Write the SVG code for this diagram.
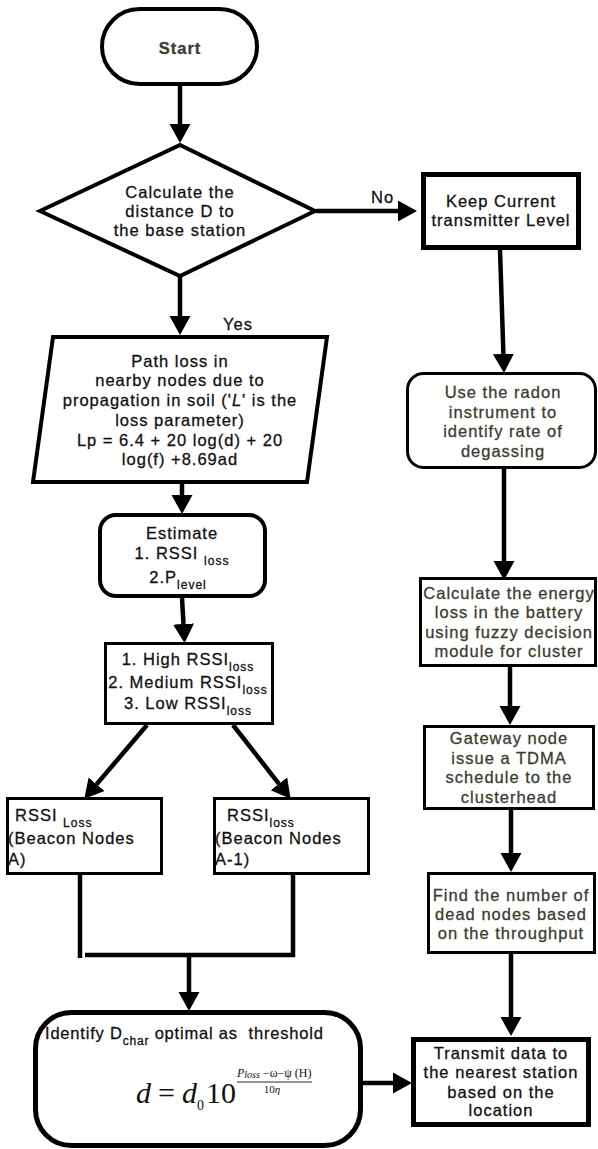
<svg xmlns="http://www.w3.org/2000/svg" width="598" height="1149" viewBox="0 0 598 1149">
<style>
.n{fill:#fff;stroke:#000;stroke-linejoin:miter}
.t{font-family:"Liberation Sans",Arial,sans-serif;font-size:16.5px;letter-spacing:1px;fill:#111;stroke:#111;stroke-width:0.3;text-anchor:middle}
.l{text-anchor:start}
.g{fill:#3a3d30;stroke:#3a3d30}
.c{fill:none;stroke:#000;stroke-width:4.5}
.m{font-family:"Liberation Serif","Times New Roman",serif;fill:#111}
</style>
<defs>
<marker id="ah" markerUnits="userSpaceOnUse" markerWidth="20" markerHeight="22" refX="0" refY="10.5" orient="auto">
<path d="M0,0 L19,10.5 L0,21 z" fill="#000"/>
</marker>
</defs>
<rect width="598" height="1149" fill="#fff"/>

<g id="connectors">
<path class="c" d="M180,86 V124" marker-end="url(#ah)"/>
<path class="c" d="M316,211 H398" marker-end="url(#ah)"/>
<path class="c" d="M180,276 V316" marker-end="url(#ah)"/>
<path class="c" d="M500,250 L503.4,354" marker-end="url(#ah)"/>
<path class="c" d="M182,484 V495" marker-end="url(#ah)"/>
<path class="c" d="M182,598 L183.5,624" marker-end="url(#ah)"/>
<path class="c" d="M147,725 L96.6,784.3" marker-end="url(#ah)"/>
<path class="c" d="M233,725 L278.9,783.8" marker-end="url(#ah)"/>
<path class="c" d="M80,875 V958"/>
<path class="c" d="M293,875 V955 H85"/>
<path class="c" d="M189,955 V992" marker-end="url(#ah)"/>
<path class="c" d="M504,469 V561" marker-end="url(#ah)"/>
<path class="c" d="M510,667 V706" marker-end="url(#ah)"/>
<path class="c" d="M511,810 V853" marker-end="url(#ah)"/>
<path class="c" d="M511,954 V1017" marker-end="url(#ah)"/>
<path class="c" d="M363,1083 H393" marker-end="url(#ah)"/>
<text class="t l" x="223" y="330">Yes</text>
<text class="t l" x="371" y="203">No</text>
</g>

<g id="start">
<rect class="n" x="102" y="9" width="155" height="75" rx="37.5" stroke-width="4"/>
<text class="t g" x="180" y="54" font-weight="bold">Start</text>
</g>

<g id="decision">
<polygon class="n" points="40,211 180,145 315,211 180,276" stroke-width="4"/>
<text class="t" x="180" y="198">Calculate the</text>
<text class="t" x="180" y="217">distance D to</text>
<text class="t" x="180" y="236">the base station</text>
</g>

<g id="keep">
<rect class="n" x="423.5" y="174.5" width="155" height="73" stroke-width="5"/>
<text class="t" x="501" y="207">Keep Current</text>
<text class="t" x="501" y="226">transmitter Level</text>
</g>

<g id="pathloss">
<polygon class="n" points="53,337 327,337 307,482 33,482" stroke-width="4"/>
<text class="t" x="180" y="367">Path loss in</text>
<text class="t" x="180" y="386">nearby nodes due to</text>
<text class="t" x="180" y="406">propagation in soil ('<tspan font-style="italic">L</tspan>' is the</text>
<text class="t" x="180" y="426">loss parameter)</text>
<text class="t" x="180" y="446">Lp = 6.4 + 20 log(d) + 20</text>
<text class="t" x="180" y="465">log(f) +8.69ad</text>
</g>

<g id="estimate">
<rect class="n" x="100" y="515" width="165" height="81" rx="16" stroke-width="4"/>
<text class="t" x="182" y="539">Estimate</text>
<text class="t" x="182" y="559">1. RSSI <tspan font-size="12" dy="6">loss</tspan></text>
<text class="t" x="178" y="583">2.P<tspan font-size="12" dy="6">level</tspan></text>
</g>

<g id="levels">
<rect class="n" x="105.5" y="643.5" width="167" height="80" stroke-width="3"/>
<text class="t" x="188" y="665">1. High RSSI<tspan font-size="12" dy="6">loss</tspan></text>
<text class="t" x="188" y="688">2. Medium RSSI<tspan font-size="12" dy="6">loss</tspan></text>
<text class="t" x="188" y="709">3. Low RSSI<tspan font-size="12" dy="6">loss</tspan></text>
</g>

<g id="beaconA">
<rect class="n" x="7.5" y="798.5" width="154" height="75" stroke-width="3"/>
<text class="t l" x="15" y="821">RSSI <tspan font-size="12" dy="6">Loss</tspan></text>
<text class="t l" x="8" y="844">(Beacon Nodes</text>
<text class="t l" x="8" y="865">A)</text>
</g>

<g id="beaconA1">
<rect class="n" x="214.5" y="798.5" width="154" height="75" stroke-width="3"/>
<text class="t l" x="227" y="821">RSSI<tspan font-size="12" dy="6">loss</tspan></text>
<text class="t l" x="215" y="844">(Beacon Nodes</text>
<text class="t l" x="215" y="865">A-1)</text>
</g>

<g id="threshold">
<rect class="n" x="35.5" y="1012.5" width="325" height="133" rx="36" stroke-width="5"/>
<text class="t l" x="45" y="1039" style="letter-spacing:0.8px" xml:space="preserve">Identify D<tspan font-size="12" dy="6">char</tspan><tspan dy="-6"> optimal as  threshold</tspan></text>
<text class="m" y="1103" font-size="30"><tspan x="136" font-style="italic">d</tspan><tspan x="158">=</tspan><tspan x="182" font-style="italic">d</tspan><tspan x="197" font-size="14" dy="7">0</tspan><tspan x="206" dy="-7">10</tspan></text>
<text class="m" y="1077" font-size="12"><tspan x="237" font-style="italic">P</tspan><tspan font-size="10" dy="1" font-style="italic">loss</tspan><tspan dy="-1"> −ω−ψ (H)</tspan></text>
<line x1="237" y1="1082" x2="312" y2="1082" stroke="#111" stroke-width="0.9"/>
<text class="m" x="272" y="1093" font-size="11" text-anchor="middle">10<tspan font-style="italic">η</tspan></text>
</g>

<g id="radon">
<rect class="n" x="407.5" y="373.5" width="188" height="94" rx="16" stroke-width="3"/>
<text class="t g" x="503" y="398">Use the radon</text>
<text class="t g" x="503" y="418">instrument to</text>
<text class="t g" x="503" y="437">identify rate of</text>
<text class="t g" x="503" y="457">degassing</text>
</g>

<g id="energy">
<rect class="n" x="420.5" y="578.5" width="175" height="87" stroke-width="3"/>
<text class="t g" x="509" y="599">Calculate the energy</text>
<text class="t g" x="509" y="618">loss in the battery</text>
<text class="t g" x="509" y="638">using fuzzy decision</text>
<text class="t g" x="509" y="657">module for cluster</text>
</g>

<g id="gateway">
<rect class="n" x="424.5" y="726.5" width="169" height="82" stroke-width="3"/>
<text class="t g" x="509" y="744">Gateway node</text>
<text class="t g" x="509" y="764">issue a TDMA</text>
<text class="t g" x="509" y="783">schedule to the</text>
<text class="t g" x="509" y="803">clusterhead</text>
</g>

<g id="dead">
<rect class="n" x="428.5" y="873.5" width="166" height="79" stroke-width="3"/>
<text class="t g" x="511" y="901">Find the number of</text>
<text class="t g" x="511" y="920">dead nodes based</text>
<text class="t g" x="511" y="939">on the throughput</text>
</g>

<g id="transmit">
<rect class="n" x="413.5" y="1039.5" width="175" height="85" stroke-width="5"/>
<text class="t" x="501" y="1059">Transmit data to</text>
<text class="t" x="501" y="1078">the nearest station</text>
<text class="t" x="501" y="1098">based on the</text>
<text class="t" x="501" y="1116">location</text>
</g>
</svg>
